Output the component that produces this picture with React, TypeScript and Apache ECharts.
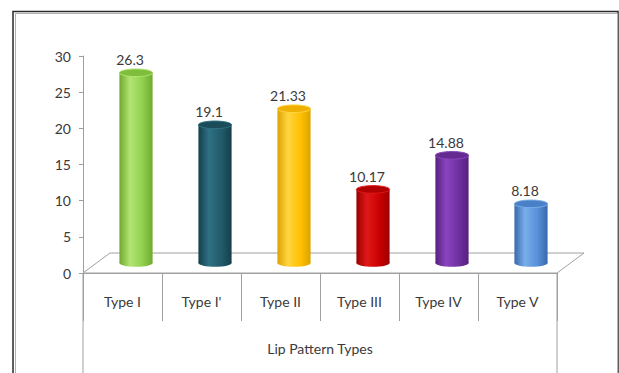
import React, { useEffect, useRef } from "react";
import * as echarts from "echarts";

const categories = ["Type I", "Type I'", "Type II", "Type III", "Type IV", "Type V"];
const values = [26.3, 19.1, 21.33, 10.17, 14.88, 8.18];
const valueLabels = ["26.3", "19.1", "21.33", "10.17", "14.88", "8.18"];
const axisTitle = "Lip Pattern Types";
const yMin = 0;
const yMax = 30;
const yInterval = 5;

// cylinder colours: [edge, highlight, main, top]
const palette = [
  ["#6faa2e", "#b2e472", "#92d050", "#7fbd3c"],
  ["#153f4b", "#2f7184", "#215a69", "#1b4c59"],
  ["#dca300", "#ffd640", "#ffc000", "#f0b000"],
  ["#9c0000", "#e01818", "#c80000", "#b00000"],
  ["#55207e", "#8a45bf", "#7030a0", "#642a90"],
  ["#3769ad", "#79aeea", "#5690d8", "#4a80c8"],
];

const DX = 27;
const DY = -20;
const FONT = "Lato, 'Open Sans', sans-serif";
const TEXT = "#3a3a3a";

export default function App() {
  const ref = useRef<HTMLDivElement>(null);

  useEffect(() => {
    const chart = echarts.init(ref.current!, null, { renderer: "svg" });

    const floorRender = (params: any, api: any) => {
      const cs = params.coordSys;
      const x0 = cs.x;
      const x1 = cs.x + cs.width;
      const yb = cs.y + cs.height;
      const stroke = "#a0a0a0";
      return {
        type: "group",
        children: [
          {
            type: "polygon",
            shape: {
              points: [
                [x0, yb],
                [x1, yb],
                [x1 + DX, yb + DY],
                [x0 + DX, yb + DY],
              ],
            },
            style: { fill: "#ffffff", stroke, lineWidth: 1 },
          },
          { type: "line", shape: { x1: x0, y1: yb, x2: x0, y2: yb + 110 }, style: { stroke, lineWidth: 1 } },
          { type: "line", shape: { x1: x1, y1: yb, x2: x1, y2: yb + 110 }, style: { stroke, lineWidth: 1 } },
        ],
      };
    };

    const barRender = (params: any, api: any) => {
      const idx = api.value(0);
      const v = api.value(1);
      const top = api.coord([idx, v]);
      const base = api.coord([idx, 0]);
      const bw = api.size([1, 0])[0];
      const w = bw * 0.42;
      const rx = w / 2;
      const ry = 3.8;
      const cx = top[0] + DX / 2;
      const ty = top[1] + DY / 2;
      const by = base[1] + DY / 2;
      const c = palette[idx];
      const grad = new echarts.graphic.LinearGradient(0, 0, 1, 0, [
        { offset: 0, color: c[0] },
        { offset: 0.32, color: c[1] },
        { offset: 0.7, color: c[2] },
        { offset: 1, color: c[0] },
      ]);
      return {
        type: "group",
        children: [
          { type: "ellipse", shape: { cx, cy: by, rx, ry }, style: { fill: grad } },
          { type: "rect", shape: { x: cx - rx, y: ty, width: w, height: by - ty }, style: { fill: grad } },
          {
            type: "ellipse",
            shape: { cx, cy: ty, rx, ry },
            style: { fill: c[3], stroke: c[1], lineWidth: 1 },
          },
          {
            type: "text",
            style: {
              text: valueLabels[idx],
              x: cx - 6,
              y: ty - 13,
              align: "center",
              verticalAlign: "middle",
              fill: TEXT,
              font: `14px ${FONT}`,
            },
          },
        ],
      };
    };

    chart.setOption({
      animation: false,
      backgroundColor: "#ffffff",
      textStyle: { fontFamily: FONT },
      grid: { left: 83, right: 62, top: 56, bottom: 100 },
      graphic: [
        {
          type: "rect",
          shape: { x: 13, y: 11.5, width: 605, height: 420 },
          style: { fill: "none", stroke: "#2a2a2a", lineWidth: 1.5 },
          silent: true,
        },
        {
          type: "rect",
          shape: { x: 15.5, y: 13.5, width: 602, height: 420 },
          style: { fill: "none", stroke: "#b0b0b0", lineWidth: 1 },
          silent: true,
        },
      ],
      xAxis: {
        type: "category",
        data: categories,
        boundaryGap: true,
        axisLine: { show: true, lineStyle: { color: "#a0a0a0" } },
        axisTick: { show: true, interval: 0, length: 48, lineStyle: { color: "#a0a0a0" } },
        axisLabel: { interval: 0, margin: 21, fontSize: 14, color: TEXT, fontFamily: FONT },
        name: axisTitle,
        nameLocation: "middle",
        nameGap: 68,
        nameTextStyle: { fontSize: 14, color: TEXT, fontFamily: FONT },
        splitLine: { show: false },
      },
      yAxis: {
        type: "value",
        min: yMin,
        max: yMax,
        interval: yInterval,
        axisLine: { show: true, lineStyle: { color: "#a0a0a0" } },
        axisTick: { show: true, length: 4, lineStyle: { color: "#a0a0a0" } },
        axisLabel: { margin: 12, fontSize: 14, color: TEXT, fontFamily: FONT },
        splitLine: { show: false },
      },
      series: [
        {
          type: "custom",
          renderItem: floorRender,
          data: [[0, 0]],
          encode: { x: 0, y: 1 },
          clip: false,
          silent: true,
          z: 1,
        },
        {
          type: "custom",
          renderItem: barRender,
          data: values.map((v, i) => [i, v]),
          encode: { x: 0, y: 1 },
          clip: false,
          z: 3,
        },
      ],
    });

    return () => chart.dispose();
  }, []);

  return (
    <div
      ref={ref}
      style={{ position: "fixed", left: 0, top: 0, width: 619, height: 373 }}
    />
  );
}
